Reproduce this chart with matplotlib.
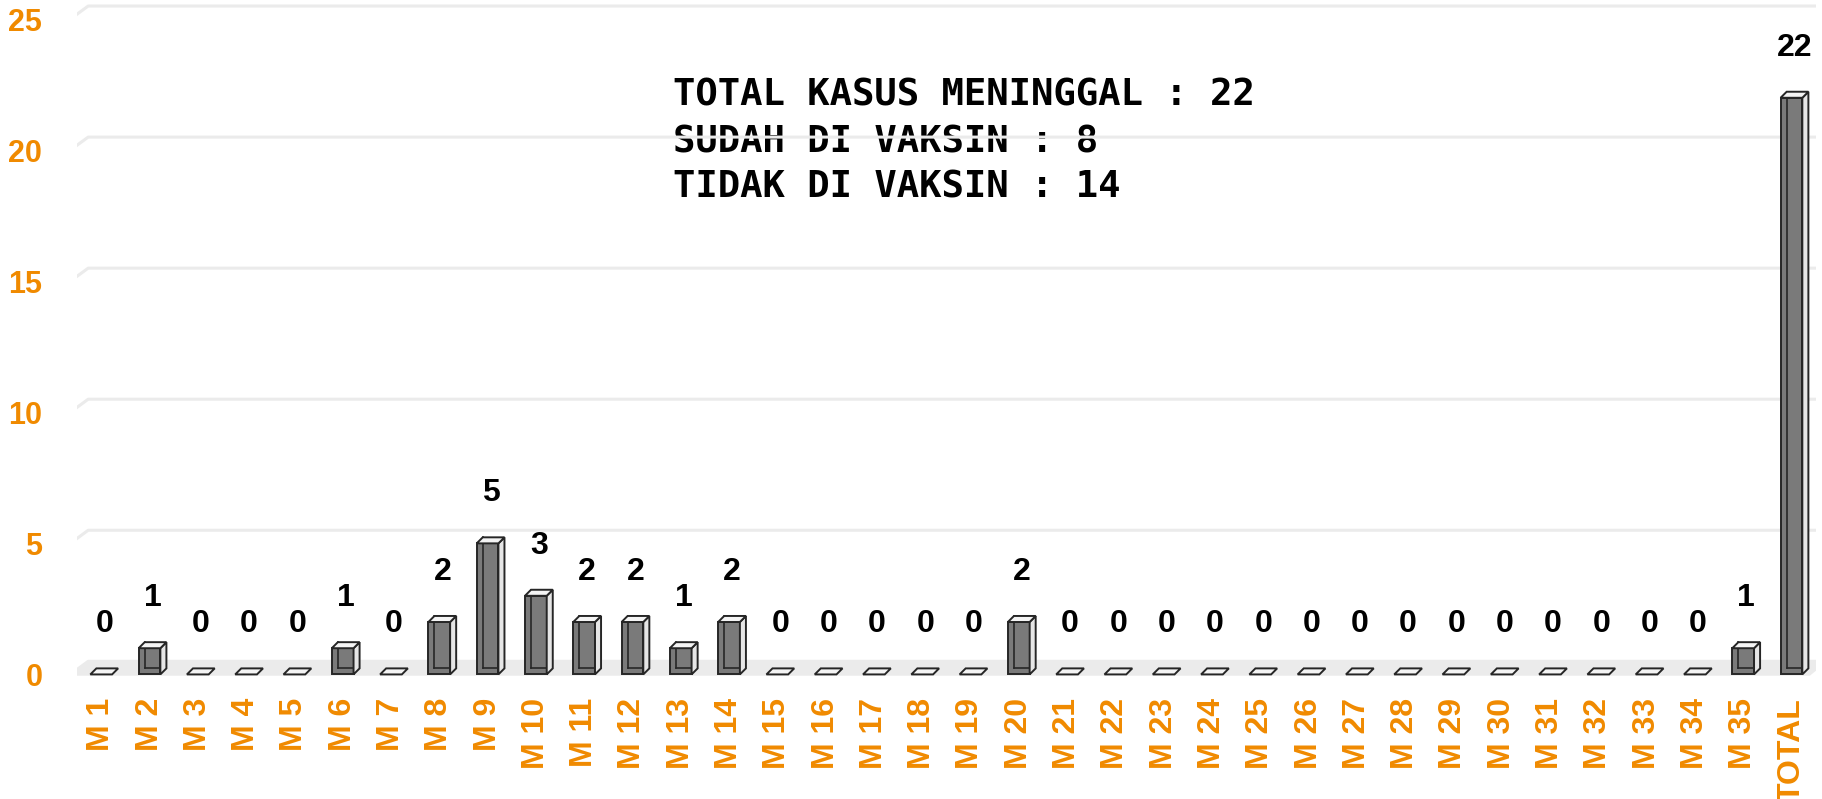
import matplotlib
matplotlib.use("Agg")
import matplotlib.pyplot as plt
from matplotlib.patches import Rectangle, Polygon

categories = ["M 1", "M 2", "M 3", "M 4", "M 5", "M 6", "M 7", "M 8", "M 9", "M 10",
              "M 11", "M 12", "M 13", "M 14", "M 15", "M 16", "M 17", "M 18", "M 19", "M 20",
              "M 21", "M 22", "M 23", "M 24", "M 25", "M 26", "M 27", "M 28", "M 29", "M 30",
              "M 31", "M 32", "M 33", "M 34", "M 35", "TOTAL"]
values = [0, 1, 0, 0, 0, 1, 0, 2, 5, 3,
          2, 2, 1, 2, 0, 0, 0, 0, 0, 2,
          0, 0, 0, 0, 0, 0, 0, 0, 0, 0,
          0, 0, 0, 0, 1, 22]
yticks = [0, 5, 10, 15, 20, 25]
notes = ["TOTAL KASUS MENINGGAL : 22", "SUDAH DI VAKSIN : 8", "TIDAK DI VAKSIN : 14"]

ORANGE = "#F08A00"
EDGE = "#262626"

fig = plt.figure(figsize=(18.22, 7.99), dpi=100)
ax = fig.add_axes([0.0423, 0.1264, 0.9542, 0.8736])
n = len(categories)
ax.set_xlim(-0.5, n - 0.5)
ax.set_ylim(-0.9, 25.73)
for s in ax.spines.values():
    s.set_visible(False)

w = 0.45
dx = 0.125
dy = 0.23
off = 0.5      # back-wall offset
gx = 0.37      # back-wall horizontal shift

# floor
floor = Polygon([(-0.64, -0.05), (n - 0.62, -0.05), (n - 0.62 + gx, off), (-0.64 + gx, off)],
                closed=True, facecolor="#ebebeb", edgecolor="none", zorder=1)
ax.add_patch(floor)

# back gridlines
for t in yticks:
    ax.plot([-0.64, -0.64 + gx, n], [t, t + off, t + off], color="#ebebeb", lw=2.2,
            zorder=2, solid_capstyle="butt")

# notes (under gridlines)
ys = [0.864, 0.797, 0.732]
for txt, yy in zip(notes, ys):
    ax.text(0.3425, yy, txt, transform=ax.transAxes, fontsize=26.8, fontweight="bold",
            family="DejaVu Sans Mono", va="center", ha="left", color="black", zorder=1)

# bars
for i, v in enumerate(values):
    x0 = i - w / 2
    x1 = i + w / 2
    z = 3
    if v > 0:
        ax.add_patch(Rectangle((x0, 0), w, v, facecolor="#7a7a7a", edgecolor=EDGE,
                               lw=1.4, zorder=z))
        ax.plot([x0 + dx, x0 + dx], [dy, v + dy], color=EDGE, lw=1.2, zorder=z + 0.1)
        ax.plot([x0 + dx, x1], [dy, dy], color=EDGE, lw=1.2, zorder=z + 0.1)
        ax.add_patch(Polygon([(x1, 0), (x1 + dx, dy), (x1 + dx, v + dy), (x1, v)], closed=True,
                             facecolor="#e6e6e6", edgecolor=EDGE, lw=1.4, zorder=z + 0.2))
    ax.add_patch(Polygon([(x0, v), (x1, v), (x1 + dx, v + dy), (x0 + dx, v + dy)], closed=True,
                         facecolor="#f4f4f4", edgecolor=EDGE, lw=1.4, zorder=z + 0.3))
    ax.annotate(str(v), (i + dx / 2, v), xytext=(0, 36), textcoords="offset points",
                ha="center", va="center", fontsize=23, fontweight="bold",
                family="Liberation Sans", color="black", zorder=5)

ax.set_xticks(range(n))
ax.set_xticklabels(categories, rotation=90, ha="right", va="center", rotation_mode="anchor",
                   fontsize=23, fontweight="bold", family="Liberation Sans", color=ORANGE)
ax.set_yticks(yticks)
ax.set_yticklabels([str(t) for t in yticks], fontsize=22, fontweight="bold",
                   family="Liberation Sans", color=ORANGE)
ax.tick_params(axis="x", length=0, pad=0)
ax.tick_params(axis="y", length=0, pad=25)

fig.savefig("out.png", dpi=100, facecolor="white")
